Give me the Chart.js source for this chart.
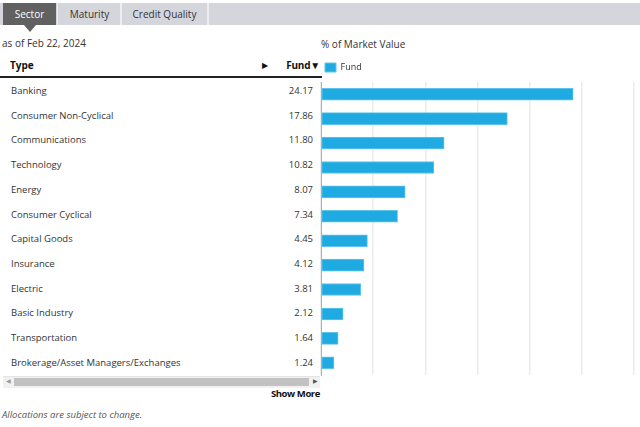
<!DOCTYPE html>
<html>
<head>
<meta charset="utf-8">
<script src="https://cdn.jsdelivr.net/npm/chart.js@4/dist/chart.umd.min.js"></script>
<style>
  html,body{margin:0;padding:0;background:#fff;width:640px;height:427px;overflow:hidden;font-family:"Open Sans",sans-serif;color:#333;}
  .abs{position:absolute;}
  #tabs{left:0;top:3px;width:640px;height:22px;background:#d5d5dc;}
  .tab{position:absolute;top:0;height:22px;line-height:22px;font-size:10px;text-align:center;color:#333;}
  #t1{left:3px;width:53px;background:#616161;color:#fff;}
  #t1:after{content:"";position:absolute;left:21px;top:22px;border-left:6px solid transparent;border-right:6px solid transparent;border-top:7px solid #616161;}
  #t2{left:57px;width:63px;border-left:1px solid #eee;}
  #t3{left:120px;width:85px;border-left:2px solid #eceef2;border-right:2px solid #eceef2;}
  #asof{left:2px;top:36px;font-size:10px;}
  #pct{left:321px;top:37px;font-size:10px;}
  #hdr{left:0;top:56px;width:322px;height:20px;border-bottom:2px solid #222;}
  #hType{left:10px;top:58px;font-size:10px;font-weight:bold;color:#111;}
  #hArr{left:262px;top:59px;font-size:8px;color:#111;}
  #hFund{right:320px;top:58px;font-size:10px;font-weight:bold;color:#111;letter-spacing:-0.2px;}
  .row{position:absolute;left:0;width:320px;height:24.7px;font-size:9.5px;}
  .row .n{position:absolute;left:11px;top:5px;}
  .row .v{position:absolute;right:7px;top:5px;}
  #scroll{left:3px;top:376px;width:317px;height:11px;background:#f1f1f1;border-top:1px solid #e4e4e4;}
  #thumb{left:14px;top:378px;width:295px;height:8px;background:#c2c2c2;}
  #la{left:6px;top:377px;font-size:6px;color:#999;}
  #ra{left:313px;top:377px;font-size:6px;color:#555;}
  #more{top:387px;font-size:9.5px;font-weight:bold;color:#111;letter-spacing:-0.4px;}
  #note{left:2px;top:408px;font-size:9.5px;font-style:italic;color:#555;}
  #cw{left:311px;top:59px;width:329px;height:318px;}
</style>
</head>
<body>
<div id="tabs" class="abs">
  <div class="tab" id="t1">Sector</div>
  <div class="tab" id="t2">Maturity</div>
  <div class="tab" id="t3">Credit Quality</div>
</div>
<div id="asof" class="abs">as of Feb 22, 2024</div>
<div id="pct" class="abs">% of Market Value</div>
<div id="hdr" class="abs"></div>
<div id="hType" class="abs">Type</div>
<div id="hArr" class="abs">&#9654;</div>
<div id="hFund" class="abs">Fund&#9660;</div>
<div id="rows"></div>
<div id="scroll" class="abs"></div>
<div id="thumb" class="abs"></div>
<div id="la" class="abs">&#9664;</div>
<div id="ra" class="abs">&#9654;</div>
<div id="more" class="abs">Show More</div>
<div id="note" class="abs">Allocations are subject to change.</div>
<div id="cw" class="abs"><canvas id="c"></canvas></div>
<script>
const categories = ["Banking","Consumer Non-Cyclical","Communications","Technology","Energy","Consumer Cyclical","Capital Goods","Insurance","Electric","Basic Industry","Transportation","Brokerage/Asset Managers/Exchanges"];
const fundValues = [24.17,17.86,11.80,10.82,8.07,7.34,4.45,4.12,3.81,2.12,1.64,1.24];
const seriesName = "Fund";

// place right-aligned header elements
const hf = document.getElementById('hFund');
hf.style.right = ''; 
const mr = document.getElementById('more');

const rowsEl = document.getElementById('rows');
categories.forEach((c,i)=>{
  const d = document.createElement('div');
  d.className='row';
  d.style.top = (79 + i*24.7) + 'px';
  d.innerHTML = '<span class="n">'+c+'</span><span class="v">'+fundValues[i].toFixed(2)+'</span>';
  rowsEl.appendChild(d);
});

function rightAlign(el, rightEdge){
  el.style.left = (rightEdge - el.getBoundingClientRect().width) + 'px';
}
rightAlign(hf, 320);
rightAlign(mr, 320);

new Chart(document.getElementById('c'), {
  type: 'bar',
  data: {
    labels: categories,
    datasets: [{
      label: seriesName,
      data: fundValues,
      backgroundColor: '#20aae2',
      borderColor: '#5ec4ee',
      borderWidth: 1,
      barThickness: 12,
      borderSkipped: false
    }]
  },
  options: {
    indexAxis: 'y',
    responsive: true,
    maintainAspectRatio: false,
    animation: false,
    layout: { padding: { left: 10, right: 6, top: 0, bottom: 2 } },
    plugins: {
      legend: {
        display: true,
        align: 'start',
        labels: { boxWidth: 11, boxHeight: 9, font: { family: 'Open Sans', size: 9 }, color: '#333', padding: 4 }
      },
      tooltip: { enabled: false }
    },
    scales: {
      x: {
        min: 0, max: 30,
        ticks: { stepSize: 5, display: false },
        grid: { color: '#ececec', lineWidth: 1.5, drawTicks: false },
        border: { display: false }
      },
      y: {
        ticks: { display: false },
        grid: { display: false, drawTicks: false },
        border: { display: true, color: '#b0b0b0', width: 1 }
      }
    }
  }
});
</script>
</body>
</html>
